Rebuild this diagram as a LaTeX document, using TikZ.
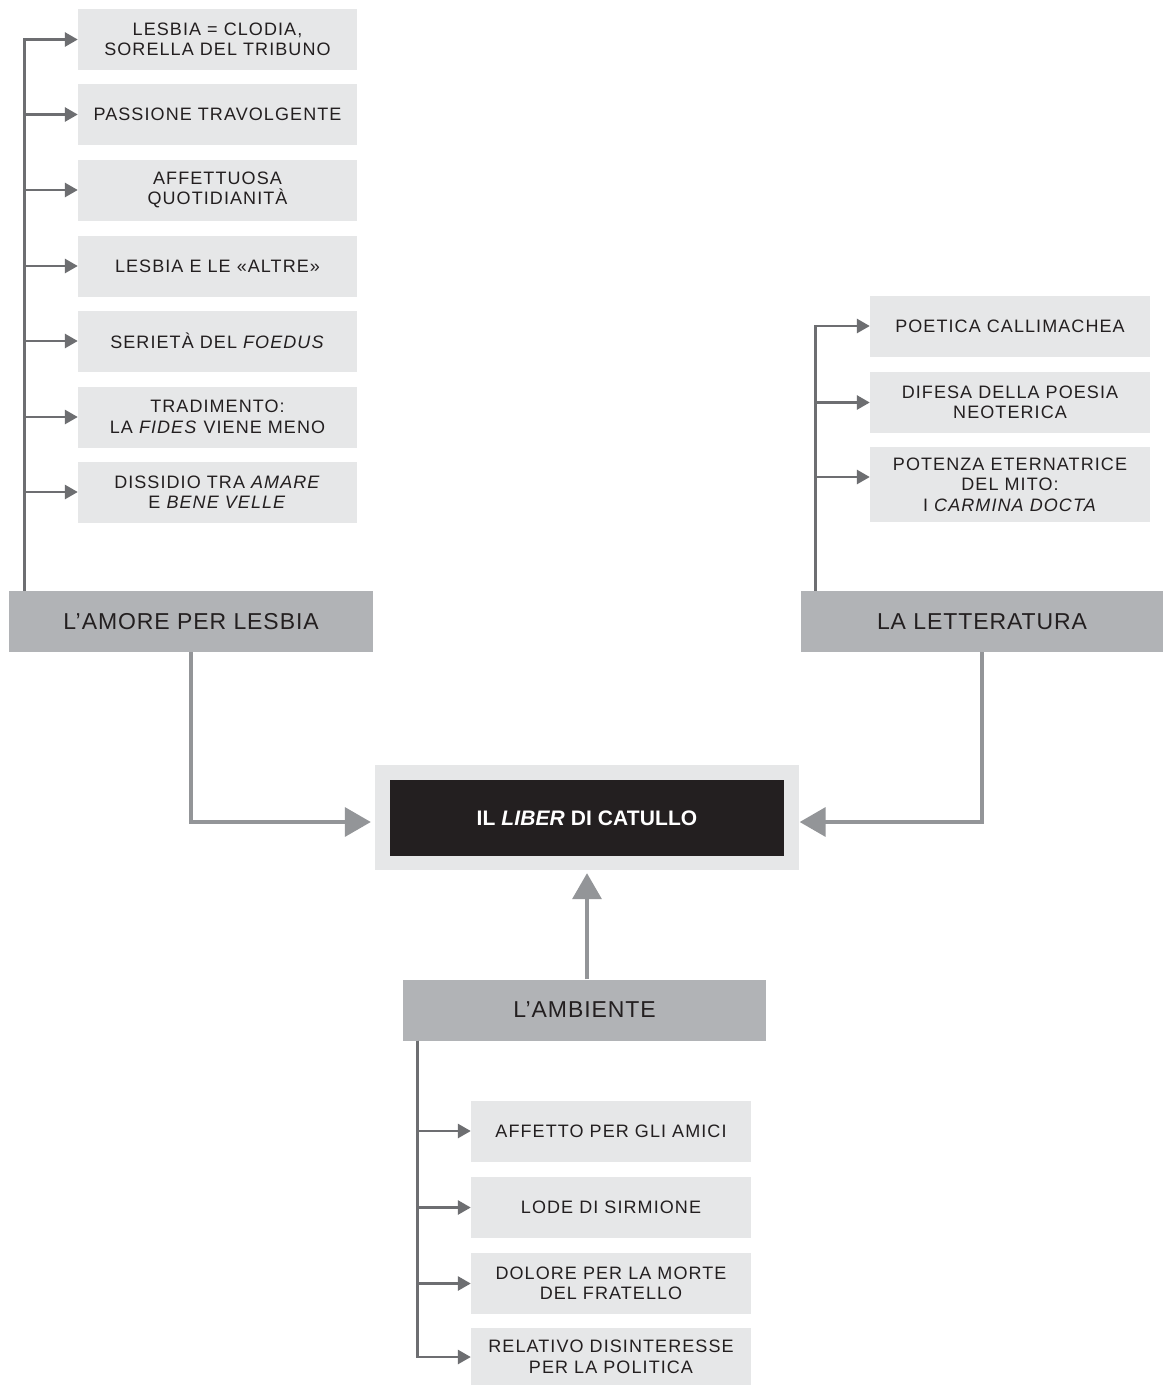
\documentclass[tikz,border=0pt]{standalone}
\usepackage{fontspec}
\setmainfont{Liberation Sans}
\newfontfamily\smallsp[LetterSpace=6]{Liberation Sans}
\newfontfamily\bigsp[LetterSpace=4]{Liberation Sans}
\newfontfamily\titsp[LetterSpace=0.5]{Liberation Sans}
\usetikzlibrary{arrows.meta,calc}
\definecolor{boxlight}{HTML}{E6E7E8}
\definecolor{boxmid}{HTML}{B1B3B6}
\definecolor{inkdark}{HTML}{231F20}
\definecolor{branchc}{HTML}{6D6E71}
\definecolor{mainc}{HTML}{939598}
\tikzset{
  x=1pt, y=-1pt,
  leaf/.style={fill=boxlight, draw=none, inner sep=0pt, minimum width=280pt, minimum height=61pt, align=center, text=inkdark, font=\smallsp\fontsize{18}{20.5}\selectfont},
  topic/.style={fill=boxmid, draw=none, inner sep=0pt, minimum height=61pt, align=center, text=inkdark, font=\bigsp\fontsize{23}{26}\selectfont},
  branch/.style={draw=branchc, line width=2.8pt, -{Triangle[length=13pt,width=14pt]}},
  mainarrow/.style={draw=mainc, line width=3.6pt, -{Triangle[length=26pt,width=29pt]}},
}
\begin{document}
\begin{tikzpicture}
\useasboundingbox[fill=white] (0,0) rectangle (1163,1385);

% centre
\node[fill=boxlight, minimum width=424pt, minimum height=105pt, inner sep=0pt] (outer) at (587,817.5) {};
\node[fill=inkdark, minimum width=394pt, minimum height=76pt, inner sep=0pt, text=white, font=\titsp\bfseries\fontsize{21}{25}\selectfont] (centre) at (587,818) {IL \textit{LIBER} DI CATULLO};

% left topic
\node[topic, minimum width=364pt] (amore) at (191,621.5) {L’AMORE PER LESBIA};
\node[leaf, minimum width=279pt] (l1) at (217.5,39.5) {LESBIA = CLODIA,\\SORELLA DEL TRIBUNO};
\node[leaf, minimum width=279pt] (l2) at (217.5,114.5) {PASSIONE TRAVOLGENTE};
\node[leaf, minimum width=279pt] (l3) at (217.5,190) {AFFETTUOSA\\QUOTIDIANITÀ};
\node[leaf, minimum width=279pt] (l4) at (217.5,266) {LESBIA E LE «ALTRE»};
\node[leaf, minimum width=279pt] (l5) at (217.5,341) {SERIETÀ DEL \textit{FOEDUS}};
\node[leaf, minimum width=279pt] (l6) at (217.5,417) {TRADIMENTO:\\LA \textit{FIDES} VIENE MENO};
\node[leaf, minimum width=279pt] (l7) at (217.5,492) {DISSIDIO TRA \textit{AMARE}\\E \textit{BENE VELLE}};
\coordinate (ltrunk) at ($(amore.north west)+(16,0)$);
\foreach \n in {l1,l2,l3,l4,l5,l6,l7} {
  \draw[branch] (ltrunk) |- (\n.west);
}

% right topic
\node[topic, minimum width=362pt] (lett) at (982,621.5) {LA LETTERATURA};
\node[leaf] (r1) at (1010,326) {POETICA CALLIMACHEA};
\node[leaf] (r2) at (1010,402.5) {DIFESA DELLA POESIA\\NEOTERICA};
\node[leaf, minimum height=75pt] (r3) at (1010,484.5) {POTENZA ETERNATRICE\\DEL MITO:\\I \textit{CARMINA DOCTA}};
\coordinate (rtrunk) at ($(lett.north west)+(15,0)$);
\draw[branch] (rtrunk) |- (r1.west);
\draw[branch] (rtrunk) |- (r2.west);
\draw[branch] (rtrunk) |- ([yshift=7.5pt]r3.west);

% bottom topic
\node[topic, minimum width=363pt] (amb) at (584.5,1010) {L’AMBIENTE};
\node[leaf] (b1) at (611,1131) {AFFETTO PER GLI AMICI};
\node[leaf] (b2) at (611,1207.5) {LODE DI SIRMIONE};
\node[leaf] (b3) at (611,1283.5) {DOLORE PER LA MORTE\\DEL FRATELLO};
\node[leaf, minimum height=58pt] (b4) at (611,1357) {RELATIVO DISINTERESSE\\PER LA POLITICA};
\coordinate (btrunk) at ($(amb.south west)+(15,0)$);
\foreach \n in {b1,b2,b3,b4} {
  \draw[branch] (btrunk) |- (\n.west);
}

% main connectors
\draw[mainarrow, shorten >=4pt] (amore.south) |- ([yshift=-4.5pt]outer.west);
\draw[mainarrow, shorten >=0.5pt] (lett.south) |- ([yshift=-4.5pt]outer.east);
\draw[mainarrow, shorten >=3pt] (amb.north -| outer.south) -- (outer.south);
\end{tikzpicture}
\end{document}
